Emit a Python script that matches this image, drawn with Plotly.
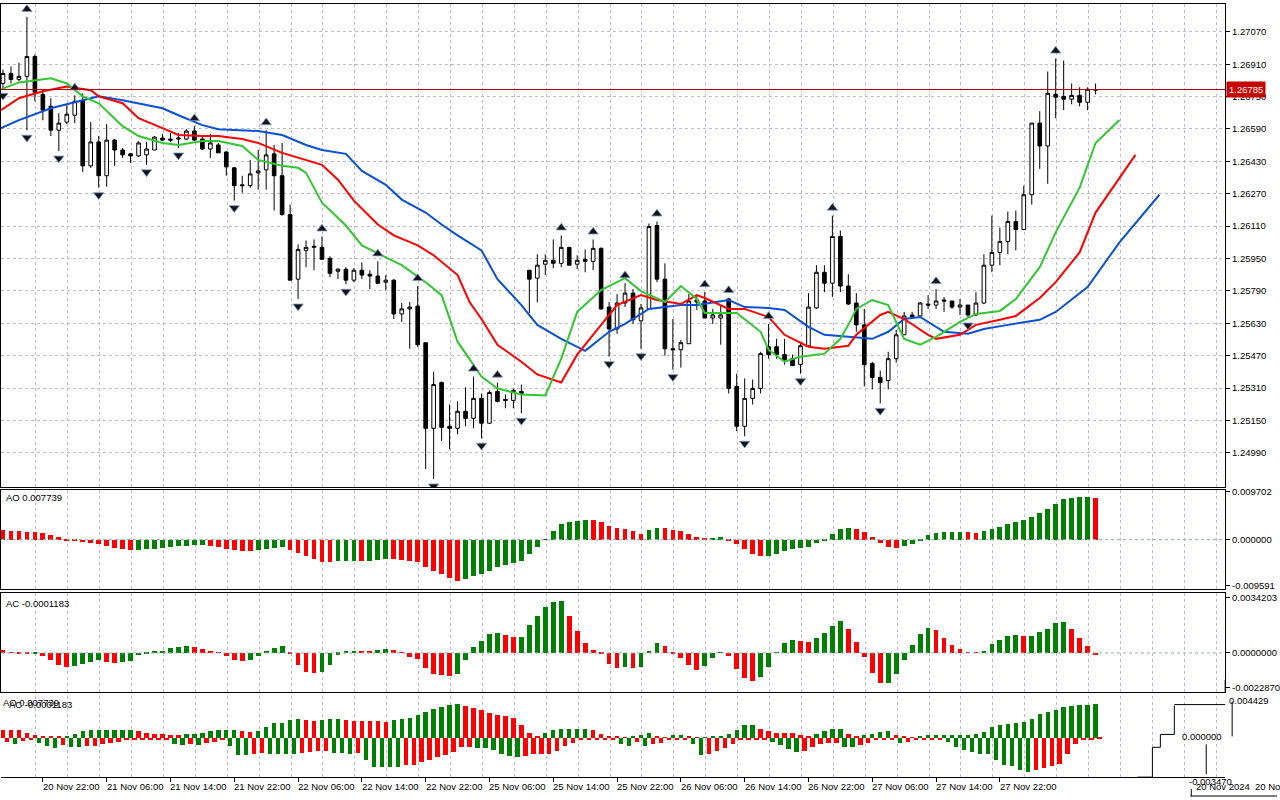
import plotly.graph_objects as go
from plotly.subplots import make_subplots

# H1 candles, bar 0 = 20 Nov 17:00, last bar = 28 Nov 10:00
opens = [1.26815, 1.26864, 1.26835, 1.26850, 1.26948, 1.26761, 1.26702, 1.26584, 1.26624, 1.26658,
         1.26732, 1.26408, 1.26526, 1.26359, 1.26535, 1.26486, 1.26467, 1.26457, 1.26462, 1.26486,
         1.26545, 1.26540, 1.26540, 1.26540, 1.26580, 1.26540, 1.26491, 1.26511, 1.26476, 1.26398,
         1.26314, 1.26310, 1.26373, 1.26388, 1.26467, 1.26359, 1.26167, 1.25848, 1.25990, 1.26005,
         1.26005, 1.25951, 1.25887, 1.25897, 1.25843, 1.25892, 1.25872, 1.25863, 1.25833, 1.25843,
         1.25676, 1.25701, 1.25715, 1.25534, 1.25111, 1.25337, 1.25121, 1.25111, 1.25195, 1.25160,
         1.25259, 1.25136, 1.25293, 1.25254, 1.25249, 1.25293, 1.25892, 1.25853, 1.25922, 1.25941,
         1.25926, 1.26005, 1.25922, 1.25946, 1.25936, 1.26000, 1.25710, 1.25602, 1.25730, 1.25779,
         1.25642, 1.25701, 1.26113, 1.25848, 1.25504, 1.25499, 1.25529, 1.25735, 1.25740, 1.25656,
         1.25656, 1.25750, 1.25318, 1.25121, 1.25259, 1.25308, 1.25514, 1.25514, 1.25475, 1.25455,
         1.25426, 1.25519, 1.25706, 1.25882, 1.25828, 1.26059, 1.25814, 1.25730, 1.25622, 1.25431,
         1.25362, 1.25347, 1.25455, 1.25573, 1.25671, 1.25666, 1.25725, 1.25720, 1.25745, 1.25740,
         1.25710, 1.25720, 1.25671, 1.25730, 1.25917, 1.25980, 1.26034, 1.26133, 1.26093, 1.26265,
         1.26619, 1.26506, 1.26761, 1.26751, 1.26737, 1.26756, 1.26722, 1.26781]
highs = [1.26884, 1.26899, 1.26918, 1.27144, 1.26958, 1.26781, 1.26742, 1.26668, 1.26707, 1.26756,
         1.26766, 1.26624, 1.26555, 1.26614, 1.26540, 1.26496, 1.26472, 1.26530, 1.26526, 1.26555,
         1.26565, 1.26570, 1.26570, 1.26589, 1.26604, 1.26555, 1.26565, 1.26521, 1.26481, 1.26403,
         1.26359, 1.26437, 1.26486, 1.26584, 1.26511, 1.26521, 1.26216, 1.26020, 1.26039, 1.26044,
         1.26059, 1.25961, 1.25902, 1.25907, 1.25902, 1.25931, 1.25892, 1.25936, 1.25868, 1.25848,
         1.25730, 1.25735, 1.25814, 1.25534, 1.25391, 1.25342, 1.25229, 1.25244, 1.25313, 1.25367,
         1.25283, 1.25298, 1.25337, 1.25278, 1.25308, 1.25327, 1.25892, 1.25971, 1.25971, 1.26044,
         1.26064, 1.26005, 1.25966, 1.25995, 1.26044, 1.26005, 1.25735, 1.25774, 1.25828, 1.25799,
         1.25725, 1.26123, 1.26133, 1.25926, 1.25651, 1.25548, 1.25774, 1.25769, 1.25784, 1.25701,
         1.25720, 1.25755, 1.25381, 1.25357, 1.25352, 1.25489, 1.25627, 1.25553, 1.25553, 1.25475,
         1.25534, 1.25779, 1.25917, 1.25917, 1.26162, 1.26088, 1.25872, 1.25779, 1.25701, 1.25440,
         1.25396, 1.25489, 1.25597, 1.25686, 1.25686, 1.25735, 1.25769, 1.25799, 1.25760, 1.25740,
         1.25750, 1.25720, 1.25784, 1.25971, 1.26162, 1.26103, 1.26182, 1.26187, 1.26310, 1.26619,
         1.26678, 1.26874, 1.26938, 1.26928, 1.26815, 1.26796, 1.26796, 1.26815]
lows = [1.26791, 1.26815, 1.26825, 1.26584, 1.26727, 1.26633, 1.26555, 1.26481, 1.26614, 1.26619,
        1.26378, 1.26398, 1.26300, 1.26305, 1.26408, 1.26447, 1.26422, 1.26452, 1.26413, 1.26486,
        1.26530, 1.26526, 1.26496, 1.26535, 1.26530, 1.26486, 1.26447, 1.26472, 1.26359, 1.26236,
        1.26275, 1.26300, 1.26290, 1.26290, 1.26187, 1.26162, 1.25843, 1.25750, 1.25907, 1.25892,
        1.25946, 1.25858, 1.25848, 1.25823, 1.25833, 1.25848, 1.25799, 1.25823, 1.25794, 1.25651,
        1.25637, 1.25504, 1.25514, 1.24910, 1.24861, 1.25048, 1.25008, 1.25082, 1.25121, 1.25111,
        1.25062, 1.25136, 1.25239, 1.25210, 1.25210, 1.25185, 1.25681, 1.25735, 1.25868, 1.25902,
        1.25907, 1.25917, 1.25897, 1.25882, 1.25892, 1.25696, 1.25465, 1.25578, 1.25710, 1.25627,
        1.25504, 1.25701, 1.25833, 1.25470, 1.25401, 1.25411, 1.25529, 1.25696, 1.25656, 1.25627,
        1.25524, 1.25283, 1.25097, 1.25072, 1.25229, 1.25283, 1.25455, 1.25455, 1.25426, 1.25421,
        1.25381, 1.25519, 1.25701, 1.25784, 1.25760, 1.25784, 1.25720, 1.25588, 1.25318, 1.25303,
        1.25234, 1.25303, 1.25435, 1.25573, 1.25651, 1.25661, 1.25701, 1.25701, 1.25686, 1.25701,
        1.25671, 1.25656, 1.25666, 1.25725, 1.25882, 1.25917, 1.25971, 1.25990, 1.26093, 1.26216,
        1.26393, 1.26319, 1.26643, 1.26683, 1.26712, 1.26702, 1.26683, 1.26761]
closes = [1.26864, 1.26835, 1.26850, 1.26948, 1.26771, 1.26683, 1.26584, 1.26619, 1.26663, 1.26727,
          1.26408, 1.26526, 1.26359, 1.26535, 1.26486, 1.26462, 1.26457, 1.26521, 1.26491, 1.26550,
          1.26535, 1.26535, 1.26545, 1.26580, 1.26535, 1.26491, 1.26521, 1.26472, 1.26403, 1.26310,
          1.26310, 1.26368, 1.26383, 1.26462, 1.26359, 1.26167, 1.25843, 1.25995, 1.26005, 1.26010,
          1.25946, 1.25877, 1.25897, 1.25843, 1.25892, 1.25868, 1.25863, 1.25828, 1.25843, 1.25676,
          1.25701, 1.25710, 1.25524, 1.25111, 1.25327, 1.25116, 1.25111, 1.25195, 1.25160, 1.25259,
          1.25136, 1.25288, 1.25244, 1.25249, 1.25298, 1.25283, 1.25848, 1.25917, 1.25941, 1.25926,
          1.26005, 1.25917, 1.25941, 1.25936, 1.26000, 1.25701, 1.25602, 1.25730, 1.25779, 1.25647,
          1.25706, 1.26108, 1.25848, 1.25504, 1.25499, 1.25534, 1.25740, 1.25745, 1.25656, 1.25671,
          1.25671, 1.25308, 1.25121, 1.25259, 1.25308, 1.25480, 1.25475, 1.25475, 1.25450, 1.25421,
          1.25519, 1.25710, 1.25882, 1.25828, 1.26059, 1.25814, 1.25725, 1.25622, 1.25426, 1.25362,
          1.25337, 1.25455, 1.25573, 1.25666, 1.25661, 1.25730, 1.25720, 1.25740, 1.25740, 1.25710,
          1.25720, 1.25671, 1.25730, 1.25917, 1.25980, 1.26034, 1.26133, 1.26093, 1.26265, 1.26619,
          1.26506, 1.26766, 1.26747, 1.26737, 1.26756, 1.26722, 1.26786, 1.26785]

# fractal bars
fractal_up = [3, 9, 24, 33, 40, 47, 52, 59, 62, 70, 74, 78, 82, 88, 91, 96, 104, 117, 132]
fractal_dn = [0, 3, 7, 12, 18, 22, 29, 37, 43, 54, 60, 65, 76, 80, 84, 93, 100, 110, 121]

# alligator (shifted forward past the last bar)
jaw_bars = [-0.25, 2, 6, 10, 12, 15, 17, 20, 22, 25, 27, 30, 32, 35, 38, 40, 43, 45, 48, 50,
            53, 55, 57, 60, 62, 65, 67, 70, 73, 76, 78, 81, 85, 87, 91, 93, 96, 98, 101, 103,
            106, 109, 111, 113, 115, 116, 118, 121, 123, 126, 130, 132, 136, 140, 145]
jaw_vals = [1.26594, 1.26634, 1.26692, 1.26732, 1.26751, 1.26732, 1.26717, 1.26692, 1.26658, 1.26609,
            1.26589, 1.26584, 1.26580, 1.26560, 1.26511, 1.26486, 1.26467, 1.26383, 1.26314, 1.26241,
            1.26177, 1.26118, 1.26064, 1.25990, 1.25848, 1.25720, 1.25622, 1.25553, 1.25494, 1.25588,
            1.25627, 1.25701, 1.25720, 1.25720, 1.25745, 1.25710, 1.25706, 1.25696, 1.25612, 1.25573,
            1.25563, 1.25553, 1.25588, 1.25651, 1.25661, 1.25637, 1.25588, 1.25578, 1.25602, 1.25622,
            1.25647, 1.25686, 1.25809, 1.26030, 1.26265]
teeth_bars = [-0.25, 2, 5, 8, 11, 12, 15, 17, 20, 22, 25, 27, 30, 32, 35, 37, 40, 42, 44, 47,
              49, 52, 54, 57, 58.5, 60, 62, 65, 67, 70, 72, 75, 77, 80, 82, 85, 87, 88, 91, 93,
              96, 98, 101, 103, 106, 107, 110, 111, 113, 116, 117, 120, 122, 125, 127, 130, 132, 135, 137, 142]
teeth_vals = [1.26683, 1.26742, 1.26776, 1.26800, 1.26781, 1.26751, 1.26717, 1.26643, 1.26594, 1.26560,
              1.26555, 1.26555, 1.26540, 1.26521, 1.26472, 1.26447, 1.26413, 1.26339, 1.26236, 1.26118,
              1.26064, 1.26015, 1.25966, 1.25868, 1.25735, 1.25651, 1.25524, 1.25440, 1.25377, 1.25337,
              1.25475, 1.25622, 1.25720, 1.25769, 1.25745, 1.25725, 1.25769, 1.25755, 1.25701, 1.25701,
              1.25661, 1.25573, 1.25514, 1.25504, 1.25519, 1.25573, 1.25671, 1.25686, 1.25651, 1.25573,
              1.25553, 1.25573, 1.25622, 1.25647, 1.25666, 1.25755, 1.25833, 1.25980, 1.26177, 1.26462]
lips_bars = [-0.25, 2, 6, 8, 10, 12, 15, 17, 20, 22, 25, 27, 30, 32, 35, 37, 38, 40, 43, 45,
             48, 50, 53, 55, 57, 60, 62, 65, 68, 70, 72, 75, 78, 80, 83, 85, 87, 88, 92, 95,
             96, 98, 100, 103, 105, 106, 107, 109, 111, 113, 115, 117, 120, 122, 125, 127, 130, 132, 135, 137, 140]
lips_vals = [1.26786, 1.26820, 1.26840, 1.26815, 1.26751, 1.26717, 1.26604, 1.26555, 1.26521, 1.26511,
             1.26530, 1.26530, 1.26506, 1.26437, 1.26408, 1.26398, 1.26373, 1.26226, 1.26113, 1.26015,
             1.25956, 1.25917, 1.25833, 1.25769, 1.25539, 1.25367, 1.25308, 1.25278, 1.25273, 1.25455,
             1.25686, 1.25794, 1.25853, 1.25789, 1.25735, 1.25814, 1.25750, 1.25681, 1.25681, 1.25588,
             1.25499, 1.25440, 1.25465, 1.25480, 1.25553, 1.25622, 1.25701, 1.25745, 1.25720, 1.25553,
             1.25524, 1.25563, 1.25637, 1.25676, 1.25691, 1.25750, 1.25907, 1.26079, 1.26300, 1.26521, 1.26634]

# Awesome Oscillator
ao = [0.001769, 0.001647, 0.001525, 0.001464, 0.001434, 0.001281, 0.000915, 0.000427, -0.000122, -0.000305,
      -0.000488, -0.000671, -0.000854, -0.001098, -0.001464, -0.001708, -0.001952, -0.00183, -0.0018, -0.001769,
      -0.001464, -0.001403, -0.00122, -0.001098, -0.001068, -0.001037, -0.001098, -0.001281, -0.001647, -0.001952,
      -0.002013, -0.002044, -0.00183, -0.001647, -0.001464, -0.001342, -0.00183, -0.002501, -0.003111, -0.00366,
      -0.004148, -0.004209, -0.004026, -0.003996, -0.003965, -0.004026, -0.003904, -0.003782, -0.003599, -0.00366,
      -0.003721, -0.003965, -0.004148, -0.005063, -0.005795, -0.006283, -0.007015, -0.007625, -0.007198, -0.00671,
      -0.006283, -0.005795, -0.005063, -0.004697, -0.004331, -0.003965, -0.002623, -0.001403, 0.000061, 0.001525,
      0.002989, 0.003355, 0.003538, 0.003599, 0.003569, 0.003233, 0.002623, 0.002257, 0.001891, 0.001525,
      0.000976, 0.001769, 0.002257, 0.002074, 0.001708, 0.001525, 0.000976, 0.000427, 0.000244, 0.000366,
      0.000427, -0.000061, -0.000793, -0.001708, -0.002623, -0.00305, -0.002989, -0.002623, -0.002135, -0.001769,
      -0.001586, -0.001403, -0.000671, -0.000061, 0.000976, 0.001891, 0.002074, 0.001891, 0.001342, 0.000427,
      -0.00061, -0.001403, -0.001586, -0.00122, -0.000793, -0.000061, 0.000793, 0.001159, 0.001342, 0.001373,
      0.001403, 0.001342, 0.001312, 0.001525, 0.001891, 0.00244, 0.002989, 0.003355, 0.003721, 0.00427,
      0.005002, 0.005734, 0.006649, 0.007564, 0.007747, 0.00793, 0.00796, 0.007739]

# Accelerator Oscillator
ac = [0.000133, -0.000019, -0.000029, -0.000095, -0.000076, -0.000209, -0.000437, -0.000722, -0.000798, -0.000741,
      -0.000627, -0.000513, -0.000399, -0.000513, -0.00057, -0.000513, -0.000456, -0.000152, -0.000038, 0.000057,
      0.000114, 0.000285, 0.000295, 0.000399, 0.000342, 0.000228, 0.000114, 0.000019, -0.000171, -0.000399,
      -0.000456, -0.000399, -0.000171, 0.000114, 0.000285, 0.000399, -0.000095, -0.000684, -0.001083, -0.00114,
      -0.001083, -0.000684, -0.000114, 0.000057, 0.000114, 0.000057, 0.000048, 0.000171, 0.000228, 0.000171,
      -0.000019, -0.000228, -0.000342, -0.000855, -0.001254, -0.001311, -0.001368, -0.001254, -0.000399, 0.000342,
      0.000684, 0.001083, 0.00114, 0.001026, 0.000912, 0.000922, 0.001596, 0.002109, 0.002622, 0.002907,
      0.002964, 0.002109, 0.001254, 0.00057, 0.000171, -0.000057, -0.000627, -0.000855, -0.000798, -0.000855,
      -0.000798, 0.000038, 0.00057, 0.000399, -0.000038, -0.000285, -0.000684, -0.000969, -0.000741, -0.000285,
      -0.000019, -0.000171, -0.000912, -0.001482, -0.001653, -0.001425, -0.000798, 0.00001, 0.00057, 0.000741,
      0.000684, 0.000627, 0.000855, 0.00114, 0.001539, 0.001824, 0.001368, 0.000627, -0.000228, -0.00114,
      -0.001767, -0.001748, -0.001254, -0.000399, 0.000456, 0.001083, 0.001425, 0.001311, 0.000855, 0.000456,
      0.000228, 0.00001, -0.000019, 0.000114, 0.000513, 0.000741, 0.000969, 0.001026, 0.000969, 0.000979,
      0.001197, 0.001368, 0.00171, 0.001767, 0.001368, 0.000855, 0.000399, -0.0001183]

# the broken bottom window (overdrawn histogram), arbitrary units
glitch_up = [8, 8, 8, 5, 3, 1, 1, 1, 2, 4,
             7, 8, 8, 8, 8, 8, 8, 7, 5, 4,
             4, 3, 3, 4, 4, 5, 7, 8, 8, 8,
             7, 6, 7, 11, 15, 15, 18, 19, 18, 17,
             18, 19, 19, 18, 17, 17, 17, 17, 16, 18,
             19, 20, 23, 26, 29, 31, 33, 34, 32, 30,
             28, 25, 23, 22, 20, 13, 5, 2, 5, 8,
             9, 9, 9, 9, 8, 4, 2, 1, 0.5, 1,
             3, 5, 2, 0.3, 3, 3, 1, 0.3, 0.5, 1,
             2, 4, 8, 13, 13, 9, 7, 5, 5, 5,
             3, 1, 4, 7, 9, 9, 4, 2, 3, 4,
             6, 7, 3, 1, 0.3, 2, 3, 3, 3, 3,
             3, 3, 4, 6, 11, 13, 14, 15, 16, 19,
             24, 26, 28, 31, 32, 33, 33, 34]
glitch_dn = [-4, -6, -3, -2, -5, -8, -10, -7, -9, -9,
             -8, -8, -6, -5, -4, -2, -2, -2, -2, -2,
             -2, -6, -7, -6, -7, -5, -4, -2, -8, -17,
             -17, -16, -15, -16, -16, -16, -16, -15, -14, -13,
             -13, -15, -15, -16, -15, -22, -29, -29, -29, -29,
             -27, -27, -24, -22, -19, -17, -14, -9, -9, -10,
             -10, -12, -16, -18, -19, -18, -16, -16, -16, -13,
             -8, -5, -2, -2, -2, -2, -2, -6, -8, -4,
             -8, -6, -5, -2, -2, -2, -6, -17, -16, -13,
             -10, -6, -2, -2, -2, -2, -4, -7, -11, -14,
             -13, -9, -6, -5, -5, -9, -9, -7, -5, -2,
             -2, -2, -5, -4, -2, -2, -2, -2, -4, -9,
             -12, -14, -16, -16, -22, -27, -28, -32, -34, -32,
             -30, -28, -26, -16, -6, -2, -2, -1]

price_ticks = [1.27070, 1.26910, 1.26750, 1.26590, 1.26430, 1.26270, 1.26110,
               1.25950, 1.25790, 1.25630, 1.25470, 1.25310, 1.25150, 1.24990]
time_bars = [-3, 5, 13, 21, 29, 37, 45, 53, 61, 69, 77, 85, 93, 101, 109, 117, 125]
time_labels = ["20 Nov 14:00", "20 Nov 22:00", "21 Nov 06:00", "21 Nov 14:00", "21 Nov 22:00",
               "22 Nov 06:00", "22 Nov 14:00", "22 Nov 22:00", "25 Nov 06:00", "25 Nov 14:00",
               "25 Nov 22:00", "26 Nov 06:00", "26 Nov 14:00", "26 Nov 22:00", "27 Nov 06:00",
               "27 Nov 14:00", "27 Nov 22:00"]

W, H = 1280, 800
GREEN, RED = "#008000", "#ff0000"
GRID = "#c2b8cc"
FONT = "Liberation Sans"


def px(x, y):
    return x / W, 1 - y / H


def hist_colors(vals, rising_is_green=True):
    cols = []
    prev_col = RED
    for i, v in enumerate(vals):
        if i == 0:
            cols.append(prev_col)
            continue
        d = v - vals[i - 1]
        if not rising_is_green:
            d = -d
        if d > 0:
            prev_col = GREEN
        elif d < 0:
            prev_col = RED
        cols.append(prev_col)
    return cols


bars = list(range(len(closes)))

fig = make_subplots(rows=4, cols=1, shared_xaxes=True, vertical_spacing=0)

fig.add_trace(go.Candlestick(
    x=bars, open=opens, high=highs, low=lows, close=closes,
    increasing=dict(line=dict(color="black", width=1), fillcolor="white"),
    decreasing=dict(line=dict(color="black", width=1), fillcolor="black"),
    whiskerwidth=0, showlegend=False, hoverinfo="skip"), row=1, col=1)

for bx, vals, col in [(jaw_bars, jaw_vals, "#0a50d2"),
                      (teeth_bars, teeth_vals, "#ff0000"),
                      (lips_bars, lips_vals, "#33c633")]:
    fig.add_trace(go.Scatter(x=bx, y=vals, mode="lines", line=dict(color=col, width=2),
                             showlegend=False, hoverinfo="skip"), row=1, col=1)

# fractal markers just above highs / below lows
fig.add_trace(go.Scatter(
    x=fractal_up, y=[highs[i] + 0.00038 for i in fractal_up], mode="markers",
    marker=dict(symbol="triangle-up", size=9, color="#141414",
                line=dict(color="#7a9ad8", width=0.8)),
    showlegend=False, hoverinfo="skip"), row=1, col=1)
fig.add_trace(go.Scatter(
    x=fractal_dn, y=[lows[i] - 0.00036 for i in fractal_dn], mode="markers",
    marker=dict(symbol="triangle-down", size=9, color="#141414",
                line=dict(color="#7a9ad8", width=0.8)),
    showlegend=False, hoverinfo="skip"), row=1, col=1)

fig.add_trace(go.Bar(x=bars, y=ao, marker=dict(color=hist_colors(ao), line=dict(width=0)),
                     width=0.6, showlegend=False, hoverinfo="skip"), row=2, col=1)
fig.add_trace(go.Bar(x=bars, y=ac, marker=dict(color=hist_colors(ac), line=dict(width=0)),
                     width=0.6, showlegend=False, hoverinfo="skip"), row=3, col=1)

fig.add_trace(go.Bar(x=bars, y=glitch_up, marker=dict(color=hist_colors(glitch_up), line=dict(width=0)),
                     width=0.55, showlegend=False, hoverinfo="skip"), row=4, col=1)
fig.add_trace(go.Bar(x=[b + 0.5 for b in bars], y=glitch_dn,
                     marker=dict(color=hist_colors(glitch_dn, rising_is_green=False), line=dict(width=0)),
                     width=0.55, showlegend=False, hoverinfo="skip"), row=4, col=1)

grid_pos = [4.125 + 4 * k for k in range(38)]
xdom = [0, 1228 / W]
xcommon = dict(range=[-0.25, 153.25], domain=xdom, tickmode="array", tickvals=grid_pos,
               showticklabels=False, showgrid=True, gridcolor=GRID, griddash="3px,3px", gridwidth=1,
               ticks="", linecolor="black", linewidth=1, zeroline=False, rangeslider=dict(visible=False))
for r in (1, 2, 3):
    fig.update_xaxes(showline=True, mirror=True, row=r, col=1, **xcommon)
fig.update_xaxes(showline=True, mirror=False, row=4, col=1,
                 minor=dict(tickmode="array", tickvals=time_bars, ticks="outside", ticklen=4,
                            tickcolor="black", showgrid=False), **xcommon)

ycommon = dict(side="right", showline=True, mirror=True, linecolor="black", linewidth=1,
               ticks="outside", ticklen=4, tickcolor="black", zeroline=False,
               tickfont=dict(family=FONT, size=9.5, color="black"))
fig.update_yaxes(domain=[1 - 486 / H, 1 - 0.5 / H], range=[1.248212, 1.272050],
                 tickmode="array", tickvals=price_ticks, tickformat=".5f",
                 showgrid=True, gridcolor=GRID, griddash="3px,3px", row=1, col=1, **ycommon)
fig.update_yaxes(domain=[1 - 589 / H, 1 - 489 / H], range=[-0.0092, 0.0092],
                 tickmode="array", tickvals=[0.00883, 0, -0.00847],
                 ticktext=["0.009702", "0.000000", "-0.009591"], showgrid=False, row=2, col=1, **ycommon)
fig.update_yaxes(domain=[1 - 692 / H, 1 - 593 / H], range=[-0.002223, 0.00342],
                 tickmode="array", tickvals=[0.00319, 0, -0.001995],
                 ticktext=["0.0034203", "0.0000000", "-0.0022870"], showgrid=False, row=3, col=1, **ycommon)
fig.update_yaxes(domain=[1 - 778 / H, 1 - 696 / H], range=[-39.5, 41.5], showline=False,
                 showticklabels=False, showgrid=False, zeroline=False, ticks="", row=4, col=1)

shapes = [
    dict(type="line", xref="x domain", x0=0, x1=1, yref="y", y0=closes[-1], y1=closes[-1],
         line=dict(color="#b00000", width=1)),
    dict(type="line", xref="x2 domain", x0=0, x1=1, yref="y2", y0=0, y1=0,
         line=dict(color="#9aa8b8", width=1, dash="3px,3px")),
    dict(type="line", xref="x3 domain", x0=0, x1=1, yref="y3", y0=0, y1=0,
         line=dict(color="#9aa8b8", width=1, dash="3px,3px")),
]
# scraps of the broken window on the right
for (x0, y0), (x1, y1) in [((1155, 748), (1155, 778)), ((1140, 778), (1155, 778)),
                           ((1155, 748), (1163, 748)), ((1163, 735), (1163, 748)),
                           ((1163, 735), (1177, 735)), ((1177, 706), (1177, 735)),
                           ((1177, 705), (1228, 705)), ((1209, 745), (1209, 775)),
                           ((1235, 702), (1235, 737)), ((1193, 797), (1280, 797)),
                           ((1194, 790), (1194, 797)), ((1228, 680), (1228, 693))]:
    a, b = px(x0, y0)
    c, d = px(x1, y1)
    shapes.append(dict(type="line", xref="paper", yref="paper", x0=a, y0=b, x1=c, y1=d,
                       line=dict(color="black", width=1)))

ann = []
lab = dict(showarrow=False, font=dict(family=FONT, size=9.5, color="black"))
for b, t in zip(time_bars, time_labels):
    ann.append(dict(x=b, xref="x4", y=1 - 787 / H, yref="paper", text=t, xshift=-2,
                    xanchor="left", yanchor="middle", **lab))
ann.append(dict(x=3 / W, xref="paper", y=1 - 497 / H, yref="paper", text=f"AO {ao[-1]:.6f}",
                xanchor="left", yanchor="middle", **lab))
ann.append(dict(x=3 / W, xref="paper", y=1 - 603 / H, yref="paper", text=f"AC {ac[-1]:.7f}",
                xanchor="left", yanchor="middle", **lab))
ann.append(dict(x=1229 / W, xref="paper", y=closes[-1], yref="y", text=f"{closes[-1]:.5f}",
                xanchor="left", yanchor="middle", bgcolor="#c80000", borderpad=2, showarrow=False,
                font=dict(family=FONT, size=9.5, color="white")))
# garbled overdrawn labels
for x, y, t in [(0, 703, f"AO {ao[-1]:.6f}"), (6, 705, f"AC {ac[-1]:.7f}"),
                (1230, 701, "0.004429"), (1183, 737, "0.000000"), (1190, 782, "-0.003470"),
                (1197, 787, "20 Nov 2024"), (1256, 787, "20 No")]:
    xx, yy = px(x, y)
    ann.append(dict(x=xx, xref="paper", y=yy, yref="paper", text=t, xanchor="left",
                    yanchor="middle", **lab))

fig.update_layout(
    width=W, height=H, margin=dict(l=0, r=0, t=0, b=0),
    paper_bgcolor="white", plot_bgcolor="white",
    font=dict(family=FONT, size=9.5, color="black"),
    barmode="overlay", bargap=0, boxgap=0.35, hovermode=False,
    shapes=shapes, annotations=ann, showlegend=False,
)

fig.write_html("out.html", config={"displayModeBar": False},
               post_script="document.body.style.margin = '0px';")
